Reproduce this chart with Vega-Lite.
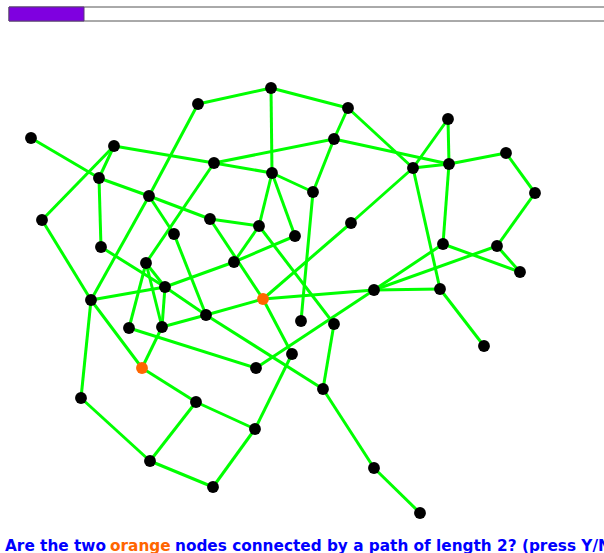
{
  "$schema": "https://vega.github.io/schema/vega-lite/v6.json",
  "width": 604,
  "height": 553,
  "padding": 0,
  "autosize": {"type": "none"},
  "config": {"view": {"stroke": null}},
  "datasets": {
    "nodes": [
      {"id": 1, "x": 31, "y": 138, "kind": "plain"},
      {"id": 2, "x": 114, "y": 146, "kind": "plain"},
      {"id": 3, "x": 198, "y": 104, "kind": "plain"},
      {"id": 4, "x": 271, "y": 88, "kind": "plain"},
      {"id": 5, "x": 348, "y": 108, "kind": "plain"},
      {"id": 6, "x": 334, "y": 139, "kind": "plain"},
      {"id": 7, "x": 214, "y": 163, "kind": "plain"},
      {"id": 8, "x": 272, "y": 173, "kind": "plain"},
      {"id": 9, "x": 99, "y": 178, "kind": "plain"},
      {"id": 10, "x": 149, "y": 196, "kind": "plain"},
      {"id": 11, "x": 313, "y": 192, "kind": "plain"},
      {"id": 12, "x": 413, "y": 168, "kind": "plain"},
      {"id": 13, "x": 448, "y": 119, "kind": "plain"},
      {"id": 14, "x": 449, "y": 164, "kind": "plain"},
      {"id": 15, "x": 506, "y": 153, "kind": "plain"},
      {"id": 16, "x": 535, "y": 193, "kind": "plain"},
      {"id": 17, "x": 42, "y": 220, "kind": "plain"},
      {"id": 18, "x": 210, "y": 219, "kind": "plain"},
      {"id": 19, "x": 259, "y": 226, "kind": "plain"},
      {"id": 20, "x": 295, "y": 236, "kind": "plain"},
      {"id": 21, "x": 351, "y": 223, "kind": "plain"},
      {"id": 22, "x": 174, "y": 234, "kind": "plain"},
      {"id": 23, "x": 101, "y": 247, "kind": "plain"},
      {"id": 24, "x": 146, "y": 263, "kind": "plain"},
      {"id": 25, "x": 234, "y": 262, "kind": "plain"},
      {"id": 26, "x": 165, "y": 287, "kind": "plain"},
      {"id": 27, "x": 443, "y": 244, "kind": "plain"},
      {"id": 28, "x": 497, "y": 246, "kind": "plain"},
      {"id": 29, "x": 520, "y": 272, "kind": "plain"},
      {"id": 30, "x": 91, "y": 300, "kind": "plain"},
      {"id": 31, "x": 263, "y": 299, "kind": "orange"},
      {"id": 32, "x": 374, "y": 290, "kind": "plain"},
      {"id": 33, "x": 440, "y": 289, "kind": "plain"},
      {"id": 34, "x": 129, "y": 328, "kind": "plain"},
      {"id": 35, "x": 162, "y": 327, "kind": "plain"},
      {"id": 36, "x": 206, "y": 315, "kind": "plain"},
      {"id": 37, "x": 301, "y": 321, "kind": "plain"},
      {"id": 38, "x": 334, "y": 324, "kind": "plain"},
      {"id": 39, "x": 292, "y": 354, "kind": "plain"},
      {"id": 40, "x": 142, "y": 368, "kind": "orange"},
      {"id": 41, "x": 256, "y": 368, "kind": "plain"},
      {"id": 42, "x": 484, "y": 346, "kind": "plain"},
      {"id": 43, "x": 81, "y": 398, "kind": "plain"},
      {"id": 44, "x": 196, "y": 402, "kind": "plain"},
      {"id": 45, "x": 255, "y": 429, "kind": "plain"},
      {"id": 46, "x": 323, "y": 389, "kind": "plain"},
      {"id": 47, "x": 150, "y": 461, "kind": "plain"},
      {"id": 48, "x": 213, "y": 487, "kind": "plain"},
      {"id": 49, "x": 374, "y": 468, "kind": "plain"},
      {"id": 50, "x": 420, "y": 513, "kind": "plain"}
    ],
    "edges": [
      {"s": 1, "t": 9}, {"s": 2, "t": 9}, {"s": 2, "t": 17}, {"s": 2, "t": 7},
      {"s": 3, "t": 4}, {"s": 4, "t": 5}, {"s": 4, "t": 8}, {"s": 3, "t": 10},
      {"s": 10, "t": 30}, {"s": 9, "t": 10}, {"s": 10, "t": 18}, {"s": 10, "t": 22},
      {"s": 22, "t": 36}, {"s": 7, "t": 6}, {"s": 7, "t": 8}, {"s": 7, "t": 24},
      {"s": 8, "t": 19}, {"s": 8, "t": 20}, {"s": 8, "t": 11}, {"s": 18, "t": 19},
      {"s": 18, "t": 31}, {"s": 19, "t": 25}, {"s": 19, "t": 38}, {"s": 20, "t": 25},
      {"s": 25, "t": 26}, {"s": 26, "t": 30}, {"s": 23, "t": 26}, {"s": 26, "t": 36},
      {"s": 36, "t": 46}, {"s": 9, "t": 23}, {"s": 17, "t": 30}, {"s": 30, "t": 43},
      {"s": 30, "t": 40}, {"s": 24, "t": 34}, {"s": 24, "t": 35}, {"s": 24, "t": 26},
      {"s": 26, "t": 35}, {"s": 35, "t": 40}, {"s": 35, "t": 36}, {"s": 36, "t": 31},
      {"s": 34, "t": 41}, {"s": 5, "t": 6}, {"s": 5, "t": 12}, {"s": 6, "t": 14},
      {"s": 6, "t": 11}, {"s": 12, "t": 13}, {"s": 13, "t": 14}, {"s": 12, "t": 14},
      {"s": 14, "t": 15}, {"s": 15, "t": 16}, {"s": 16, "t": 28}, {"s": 14, "t": 27},
      {"s": 12, "t": 21}, {"s": 21, "t": 31}, {"s": 12, "t": 33}, {"s": 27, "t": 29},
      {"s": 28, "t": 29}, {"s": 27, "t": 32}, {"s": 28, "t": 32}, {"s": 32, "t": 33},
      {"s": 33, "t": 42}, {"s": 31, "t": 32}, {"s": 32, "t": 41}, {"s": 31, "t": 39},
      {"s": 39, "t": 45}, {"s": 11, "t": 37}, {"s": 38, "t": 46}, {"s": 46, "t": 49},
      {"s": 49, "t": 50}, {"s": 40, "t": 44}, {"s": 43, "t": 47}, {"s": 47, "t": 44},
      {"s": 47, "t": 48}, {"s": 48, "t": 45}, {"s": 44, "t": 45}
    ],
    "bar": [
      {"part": "track", "x0": 9, "x1": 610, "y0": 7, "y1": 21},
      {"part": "done", "x0": 9, "x1": 84, "y0": 7, "y1": 21}
    ],
    "labels": [
      {"t": "Are the two", "x": 5, "y": 551, "kind": "plain"},
      {"t": "orange", "x": 110, "y": 551, "kind": "orange"},
      {"t": "nodes connected by a path of length 2? (press Y/N)", "x": 175, "y": 551, "kind": "plain"}
    ]
  },
  "layer": [
    {
      "data": {"name": "bar"},
      "mark": {"type": "rect", "strokeWidth": 1},
      "encoding": {
        "x": {"field": "x0", "type": "quantitative", "scale": {"domain": [0, 604], "nice": false, "zero": false}, "axis": null},
        "x2": {"field": "x1"},
        "y": {"field": "y0", "type": "quantitative", "scale": {"domain": [0, 553], "nice": false, "zero": false, "reverse": true}, "axis": null},
        "y2": {"field": "y1"},
        "fill": {"condition": {"test": "datum.part === 'done'", "value": "#7f00e0"}, "value": "#ffffff"},
        "stroke": {"condition": {"test": "datum.part === 'done'", "value": "#5a3a7a"}, "value": "#555555"}
      }
    },
    {
      "data": {"name": "edges"},
      "transform": [
        {"lookup": "s", "from": {"data": {"name": "nodes"}, "key": "id", "fields": ["x", "y"]}, "as": ["sx", "sy"]},
        {"lookup": "t", "from": {"data": {"name": "nodes"}, "key": "id", "fields": ["x", "y"]}, "as": ["tx", "ty"]}
      ],
      "mark": {"type": "rule", "color": "#00ff00", "strokeWidth": 3},
      "encoding": {
        "x": {"field": "sx", "type": "quantitative"},
        "y": {"field": "sy", "type": "quantitative"},
        "x2": {"field": "tx"},
        "y2": {"field": "ty"}
      }
    },
    {
      "data": {"name": "nodes"},
      "mark": {"type": "circle", "size": 140, "opacity": 1},
      "encoding": {
        "x": {"field": "x", "type": "quantitative"},
        "y": {"field": "y", "type": "quantitative"},
        "color": {"condition": {"test": "datum.kind === 'orange'", "value": "#ff6600"}, "value": "#000000"}
      }
    },
    {
      "data": {"name": "labels"},
      "mark": {"type": "text", "align": "left", "baseline": "alphabetic", "font": "DejaVu Sans", "fontWeight": "bold", "fontSize": 15.3},
      "encoding": {
        "x": {"field": "x", "type": "quantitative"},
        "y": {"field": "y", "type": "quantitative"},
        "text": {"field": "t"},
        "color": {"condition": {"test": "datum.kind === 'orange'", "value": "#ff6600"}, "value": "#0000ff"}
      }
    }
  ]
}
